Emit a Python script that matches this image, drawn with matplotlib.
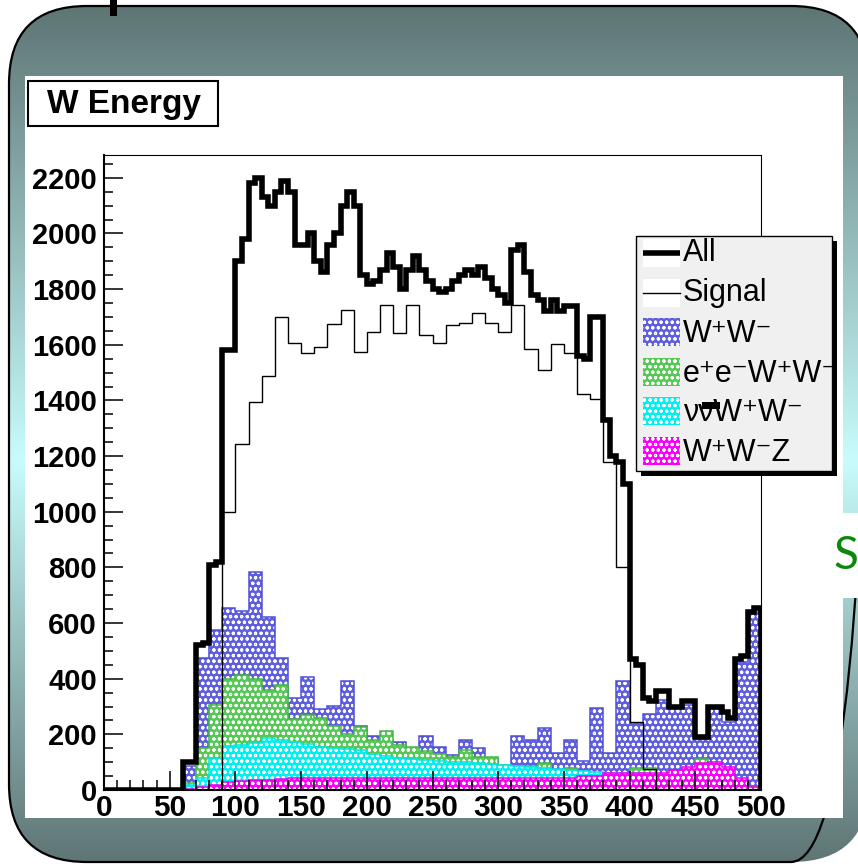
import numpy as np
import matplotlib.pyplot as plt
from matplotlib.patches import FancyBboxPatch, Rectangle
from matplotlib.ticker import MultipleLocator

plt.rcParams['font.family'] = ['Liberation Sans', 'DejaVu Sans']
plt.rcParams['hatch.linewidth'] = 0.8

# histogram contents, 10 GeV bins for the components, 5 GeV bins for the sum
edges10 = np.arange(0, 501, 10)
edges5 = np.arange(0, 501, 5)

ww = [0, 0, 0, 0, 0, 0, 86, 475, 575, 655, 645, 785, 620, 475, 330, 405, 290, 303, 393, 230,
      195, 180, 174, 150, 194, 156, 125, 180, 150, 110, 85, 194, 180, 224, 134, 180, 104, 294, 134, 393,
      240, 272, 323, 300, 305, 182, 294, 246, 461, 640]
eeww = [0, 0, 0, 0, 0, 0, 25, 150, 305, 398, 413, 398, 360, 377, 255, 270, 258, 230, 200, 225,
        180, 212, 160, 156, 140, 130, 120, 145, 120, 120, 90, 85, 85, 96, 70, 78, 60, 50, 45, 45,
        78, 78, 50, 40, 40, 111, 60, 40, 20, 10]
nnww = [0, 0, 0, 0, 0, 0, 18, 42, 114, 158, 162, 170, 186, 180, 174, 165, 156, 152, 148, 142,
        130, 122, 115, 112, 108, 105, 102, 100, 97, 94, 90, 85, 82, 78, 75, 72, 68, 66, 62, 60,
        60, 58, 55, 40, 40, 85, 30, 20, 10, 5]
wwz = [0, 0, 0, 0, 0, 0, 5, 12, 18, 27, 33, 36, 36, 38, 42, 44, 44, 44, 44, 44,
       44, 44, 44, 44, 44, 44, 44, 44, 44, 44, 44, 44, 44, 44, 44, 44, 51, 51, 60, 60,
       60, 60, 60, 72, 81, 96, 100, 81, 44, 12]
signal = [0, 0, 0, 0, 0, 0, 0, 0, 0, 1000, 1243, 1393, 1486, 1699, 1608, 1572, 1593, 1676, 1726, 1574,
          1647, 1743, 1644, 1743, 1635, 1608, 1671, 1677, 1713, 1677, 1647, 1743, 1584, 1510, 1603, 1572, 1422, 1404, 1180, 800,
          245, 75, 0, 0, 0, 0, 0, 0, 0, 0]
all_evt = [0] * 12 + [
    100, 100, 520, 530, 810, 820, 1580, 1580, 1900, 1980, 2180, 2200, 2130, 2100, 2150, 2190,
    2150, 1960, 1960, 2000, 1900, 1860, 1960, 2000, 2100, 2150, 2100, 1850, 1820, 1830, 1870, 1930,
    1880, 1800, 1870, 1920, 1870, 1830, 1800, 1790, 1800, 1830, 1850, 1870, 1850, 1880, 1840, 1800,
    1780, 1750, 1940, 1960, 1860, 1780, 1760, 1720, 1760, 1720, 1740, 1740, 1560, 1550, 1700, 1700,
    1330, 1200, 1180, 1100, 470, 450, 330, 320, 355, 355, 300, 300, 320, 320, 190, 190,
    300, 300, 280, 260, 470, 480, 640, 655]

components = [
    ('W\u207aW\u207b', ww, '#5e5ede', '#5050dc'),
    ('e\u207ae\u207bW\u207aW\u207b', eeww, '#55c855', '#45b845'),
    ('\u03bd\u03bdW\u207aW\u207b', nnww, '#00f0f0', '#00e4e4'),
    ('W\u207aW\u207bZ', wwz, '#fa00fa', '#ee00ee'),
]

W, H = 858, 864
fig = plt.figure(figsize=(W / 100, H / 100), dpi=100)
fig.patch.set_facecolor('white')

# slide background
bg = fig.add_axes([0, 0, 1, 1])
bg.set_xlim(0, W)
bg.set_ylim(H, 0)
bg.axis('off')
dark = np.array([94, 117, 116]) / 255
light = np.array([200, 252, 252]) / 255
ys = np.arange(H)
f = np.where(ys <= 460, (ys - 6) / 454, (862 - ys) / 402).clip(0, 1)
grad = dark[None, :] + f[:, None] * (light - dark)[None, :]
frame = FancyBboxPatch((9, 6), 860, 856, boxstyle='round,pad=0,rounding_size=78',
                       fc='none', ec='black', lw=1.6, zorder=3)
bg.add_patch(frame)
im = bg.imshow(grad[:, None, :], extent=(0, W, H, 0), aspect='auto', zorder=1)
im.set_clip_path(frame)
bg.add_patch(Rectangle((110, 0), 7, 16, fc='black', ec='none', zorder=4))
bg.add_patch(Rectangle((25, 76), 818, 742, fc='white', ec='none', zorder=4))
bg.add_patch(Rectangle((842, 513), 20, 85, fc='white', ec='none', zorder=4))
bg.text(834, 556, 'S', color='#0a8a0a', fontsize=33, family='Lato', ha='left', va='center', zorder=5)

# histogram pad
ax = fig.add_axes([104 / W, (H - 790) / H, 657 / W, 635 / H])
ax.set_facecolor('white')
for name, vals, fc, ec in components:
    ax.stairs(vals, edges10, fill=True, facecolor=fc, edgecolor='white', hatch='ooo', lw=0)
    ax.stairs(vals, edges10, color=ec, lw=1.1)
ax.stairs(signal, edges10, color='black', lw=1.0)
ax.stairs(all_evt, edges5, color='black', lw=4.0)

ax.set_xlim(0, 500)
ax.set_ylim(0, 2282)
ax.xaxis.set_major_locator(MultipleLocator(50))
ax.xaxis.set_minor_locator(MultipleLocator(10))
ax.yaxis.set_major_locator(MultipleLocator(200))
ax.yaxis.set_minor_locator(MultipleLocator(50))
ax.tick_params(which='both', direction='in', top=False, right=False, width=1.1, color='black')
ax.tick_params(axis='y', which='major', length=13.5, labelsize=21, pad=5)
ax.tick_params(axis='y', which='minor', length=6.5)
ax.tick_params(axis='x', which='major', length=14, labelsize=21.5, pad=3)
ax.tick_params(axis='x', which='minor', length=7)
for lbl in ax.get_xticklabels() + ax.get_yticklabels():
    lbl.set_fontweight('bold')
for s in ['left', 'bottom']:
    ax.spines[s].set_linewidth(1.5)
for s in ['top', 'right']:
    ax.spines[s].set_linewidth(0.8)

# title and legend boxes
ov = fig.add_axes([0, 0, 1, 1])
ov.set_xlim(0, W)
ov.set_ylim(H, 0)
ov.axis('off')
ov.add_patch(Rectangle((28, 81), 190, 45, fc='white', ec='black', lw=1.5))
ov.text(124, 104, 'W Energy', fontsize=24, fontweight='bold', ha='center', va='center')

ov.add_patch(Rectangle((641, 241), 196, 235, fc='black', ec='none'))
ov.add_patch(Rectangle((636, 236), 196, 235, fc='#f0f0f0', ec='black', lw=1.0))
rows = [253 + 39.6 * i for i in range(6)]
ov.add_patch(Rectangle((643, rows[0] - 14), 37, 28, fc='white', ec='none'))
ov.plot([643, 680], [rows[0], rows[0]], color='black', lw=4.0, solid_capstyle='butt')
ov.text(683, rows[0], 'All', fontsize=22, ha='left', va='center')
ov.add_patch(Rectangle((643, rows[1] - 14), 37, 28, fc='white', ec='none'))
ov.plot([643, 680], [rows[1], rows[1]], color='black', lw=1.0)
ov.text(683, rows[1], 'Signal', fontsize=22, ha='left', va='center')
for (name, vals, fc, ec), y in zip(components, rows[2:]):
    ov.add_patch(Rectangle((643, y - 14), 37, 28, fc=fc, ec='white', hatch='ooo', lw=0))
    ov.text(683, y + 2, name, fontsize=22, ha='left', va='center')
ov.add_patch(Rectangle((702, rows[4] - 9), 18, 7, fc='black', ec='none'))

fig.savefig('out.png', dpi=100)
